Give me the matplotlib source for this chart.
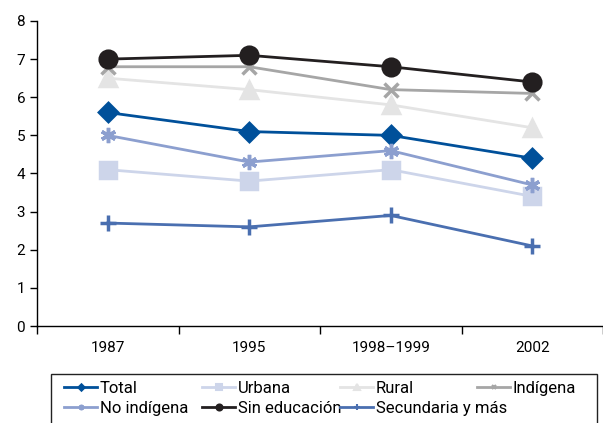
import matplotlib
matplotlib.use("Agg")
import matplotlib.pyplot as plt
from matplotlib import font_manager
from matplotlib.patches import Rectangle

names = {f.name for f in font_manager.fontManager.ttflist}
narrow = 'Liberation Sans Narrow' if 'Liberation Sans Narrow' in names else 'Roboto'
plt.rcParams['font.family'] = [narrow, 'DejaVu Sans']

years = ['1987', '1995', '1998\u20131999', '2002']

total = [5.6, 5.1, 5.0, 4.4]
urbana = [4.1, 3.8, 4.1, 3.4]
rural = [6.5, 6.2, 5.8, 5.2]
indigena = [6.8, 6.8, 6.2, 6.1]
no_indigena = [5.0, 4.3, 4.6, 3.7]
sin_educacion = [7.0, 7.1, 6.8, 6.4]
secundaria = [2.7, 2.6, 2.9, 2.1]

series = [
    ('Total', total, '#00509a', 'D', 9),
    ('Urbana', urbana, '#cdd5ea', 's', 11),
    ('Rural', rural, '#e4e4e4', '^', 12),
    ('Indígena', indigena, '#a6a6a6', 'x', 10),
    ('No indígena', no_indigena, '#8c9fcf', (6, 2, 0), 11),
    ('Sin educación', sin_educacion, '#231f20', 'o', 12),
    ('Secundaria y más', secundaria, '#4a6fb0', '+', 12),
]

W, H = 603, 423
fig = plt.figure(figsize=(W / 100, H / 100), dpi=100)
ax = fig.add_axes([37 / W, 1 - 326 / H, 1 - 37 / W, 305 / H])

x = range(len(years))
lines = []
for name, vals, col, mk, ms in series:
    ln, = ax.plot(x, vals, color=col, lw=2.0, marker=mk, ms=ms, mew=2.5,
                  mec=col, mfc=col, label=name)
    lines.append(ln)

ax.set_xlim(-0.5, 3.5)
ax.set_ylim(0, 8)
ax.set_yticks(range(0, 9))
ax.set_xticks([i - 0.5 for i in range(5)])
ax.set_xticklabels([])
ax.set_xticks(list(x), minor=True)
ax.set_xticklabels(years, minor=True)
ax.tick_params(axis='x', which='minor', length=0, pad=11, labelsize=11)
ax.tick_params(axis='x', which='major', length=6, direction='out', width=1)
ax.tick_params(axis='y', length=5, width=1, labelsize=11)
for s in ['top', 'right']:
    ax.spines[s].set_visible(False)
for s in ['left', 'bottom']:
    ax.spines[s].set_linewidth(1)

# legend box (runs off the bottom edge like the reference)
fig.patches.append(Rectangle((51 / W, 1 - 432 / H), 546 / W, 58 / H,
                             transform=fig.transFigure, fill=False,
                             edgecolor='#222222', lw=1))

# one small legend per column so the columns are evenly spaced
cols = [[0, 4], [1, 5], [2, 6], [3]]
col_x = [64, 202, 340, 477]
for idx, cx in zip(cols, col_x):
    hs = [lines[i] for i in idx]
    leg = fig.legend(hs, [h.get_label() for h in hs], loc='upper left',
                     bbox_to_anchor=(cx / W, 1 - 381 / H), frameon=False,
                     fontsize=12, markerscale=0.36, handlelength=2.0,
                     handletextpad=0.15, borderpad=0, borderaxespad=0,
                     labelspacing=0.3)
    for h in leg.legend_handles:
        h.set_markeredgewidth(1.5)

fig.savefig('out.png', dpi=100)
